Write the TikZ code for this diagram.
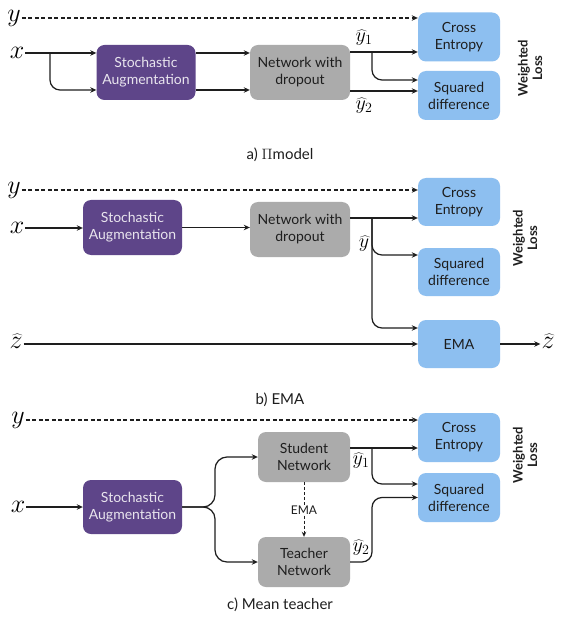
\RequirePackage{fix-cm}
\documentclass[tikz,border=0pt]{standalone}
\usepackage{fontspec}
\setmainfont{Lato}
\usetikzlibrary{arrows.meta,calc}
\definecolor{augpurple}{HTML}{5E4589}
\definecolor{netgray}{HTML}{ABABAB}
\definecolor{lossblue}{HTML}{8DBFF0}
\definecolor{ink}{HTML}{1E1E1E}

\begin{document}
\begin{tikzpicture}[x=1pt,y=-1pt,
  box/.style={rounded corners=8pt, align=center, inner sep=0pt,
    font=\fontsize{14}{17}\selectfont, text=ink},
  aug/.style={box, fill=augpurple, text=white!86!augpurple,
    minimum width=99pt, minimum height=55pt},
  net/.style={box, fill=netgray, minimum width=100pt, minimum height=55pt},
  loss/.style={box, fill=lossblue, minimum width=82pt, minimum height=49pt},
  var/.style={inner sep=1pt, font=\fontsize{26}{28}\selectfont},
  hatlbl/.style={inner sep=0pt, font=\fontsize{20}{22}\selectfont},
  wl/.style={rotate=90, align=center, inner sep=0pt,
    font=\fontsize{13}{14.5}\selectfont\bfseries, text=ink},
  caption/.style={font=\fontsize{15}{17}\selectfont, text=ink},
  link/.style={draw=ink, line width=1.25pt},
  arr/.style={link, -{Stealth[length=6pt,width=5.5pt]}},
  gtline/.style={arr, dash pattern=on 4pt off 2.5pt},
  emaline/.style={draw=ink, line width=1pt, dash pattern=on 3pt off 2pt}
]
\useasboundingbox[fill=white] (0,0) rectangle (560,617);

% ---------------- a) Pi model ----------------
\node[var] (ya) at (14,18) {$y$};
\node[var] (xa) at (17,53) {$x$};
\node[aug] (SAa) at (146,72.5) {Stochastic\\Augmentation};
\node[net] (NETa) at (300,72.5) {Network with\\dropout};
\node[loss] (CEa) at (459,37) {Cross\\Entropy};
\node[loss] (SDa) at (459,95.5) {Squared\\difference};
\node[wl] (WLa) at (530,68) {Weighted\\Loss};
\node[hatlbl] (y1a) at (364,38) {$\widehat{y}_1$};
\node[hatlbl] (y2a) at (364,106) {$\widehat{y}_2$};
\node[caption] (capa) at (280,155) {a) $\Pi$model};

\coordinate (fa) at (50,53);
\coordinate (ga) at (372,52);
\draw[gtline] (ya) -- ([yshift=19pt]CEa.west);
\draw[arr] (xa) -- ([yshift=19.5pt]SAa.west);
\draw[arr, rounded corners=10pt] (fa) |- ([yshift=-17.5pt]SAa.west);
\draw[arr] ([yshift=19.5pt]SAa.east) -- ([yshift=19.5pt]NETa.west);
\draw[arr] ([yshift=-17.5pt]SAa.east) -- ([yshift=-17.5pt]NETa.west);
\draw[arr] ([yshift=20.5pt]NETa.east) -- ([yshift=-15pt]CEa.west);
\draw[arr, rounded corners=10pt] (ga) |- ([yshift=15.5pt]SDa.west);
\draw[arr] ([yshift=-18.5pt]NETa.east) -- ([yshift=4.5pt]SDa.west);

% ---------------- b) EMA ----------------
\node[var] (yb) at (14,190) {$y$};
\node[var] (xb) at (17,228) {$x$};
\node[var] (zb) at (16,341) {$\widehat{z}$};
\node[aug] (SAb) at (132.5,227.5) {Stochastic\\Augmentation};
\node[net] (NETb) at (300,229.5) {Network with\\dropout};
\node[loss, minimum height=48pt] (CEb) at (459,202) {Cross\\Entropy};
\node[loss, minimum height=48pt] (SDb) at (459,272) {Squared\\difference};
\node[loss, minimum height=48pt] (EMAb) at (459,344) {EMA};
\node[var] (zo) at (548,341) {$\widehat{z}$};
\node[wl] (WLb) at (525,238) {Weighted\\Loss};
\node[hatlbl] (yhb) at (364,244) {$\widehat{y}$};
\node[caption] (capb) at (280,400) {b) EMA};

\coordinate (gb) at (372,218);
\draw[gtline] (yb) -- ([yshift=12pt]CEb.west);
\draw[arr] (xb) -- (SAb.west |- xb);
\draw[arr] (SAb.east) -- (SAb.east -| NETb.west);
\draw[arr] ([yshift=11.5pt]NETb.east) -- ([yshift=-16pt]CEb.west);
\draw[arr, rounded corners=10pt] (gb) |- ([yshift=17pt]SDb.west);
\draw[arr, rounded corners=10pt] (gb) |- ([yshift=16pt]EMAb.west);
\draw[arr] (zb.east |- EMAb.west) -- (EMAb.west);
\draw[arr] (EMAb.east) -- (EMAb.east -| zo.west);

% ---------------- c) Mean teacher ----------------
\node[var] (yc) at (18,420) {$y$};
\node[var] (xc) at (18,507) {$x$};
\node[aug, minimum height=54pt] (SAc) at (132.5,507) {Stochastic\\Augmentation};
\node[net, minimum width=92pt, minimum height=50pt] (STc) at (304,457) {Student\\Network};
\node[net, minimum width=92pt, minimum height=50pt] (TEc) at (304,562) {Teacher\\Network};
\node[loss] (CEc) at (459,437.5) {Cross\\Entropy};
\node[loss] (SDc) at (459,497.5) {Squared\\difference};
\node[wl] (WLc) at (525,455) {Weighted\\Loss};
\node[hatlbl] (y1c) at (361,461) {$\widehat{y}_1$};
\node[hatlbl] (y2c) at (361,548) {$\widehat{y}_2$};
\node[inner sep=1pt, font=\fontsize{12}{14}\selectfont, text=ink] (emal) at (304,510) {EMA};
\node[caption] (capc) at (280,605) {c) Mean teacher};

\coordinate (fc) at (215,507);
\coordinate (gc) at (372,448);
\draw[gtline] (yc) -- ([yshift=17.5pt]CEc.west);
\draw[arr] (xc) -- (SAc.west |- xc);
\draw[arr, rounded corners=12pt] (SAc.east) -- (fc) |- (STc.west);
\draw[arr, rounded corners=12pt] (SAc.east) -- (fc) |- (TEc.west);
\draw[arr] ([yshift=9pt]STc.east) -- ([yshift=-10.5pt]CEc.west);
\draw[arr, rounded corners=10pt] (gc) |- ([yshift=13.5pt]SDc.west);
\draw[arr, rounded corners=10pt] (TEc.east) -| (gc |- SDc.west) -- (SDc.west);
\draw[emaline] (STc.south) -- (emal.north);
\draw[emaline, -{Stealth[length=5pt,width=4.5pt]}] (emal.south) -- (TEc.north);
\end{tikzpicture}
\end{document}
